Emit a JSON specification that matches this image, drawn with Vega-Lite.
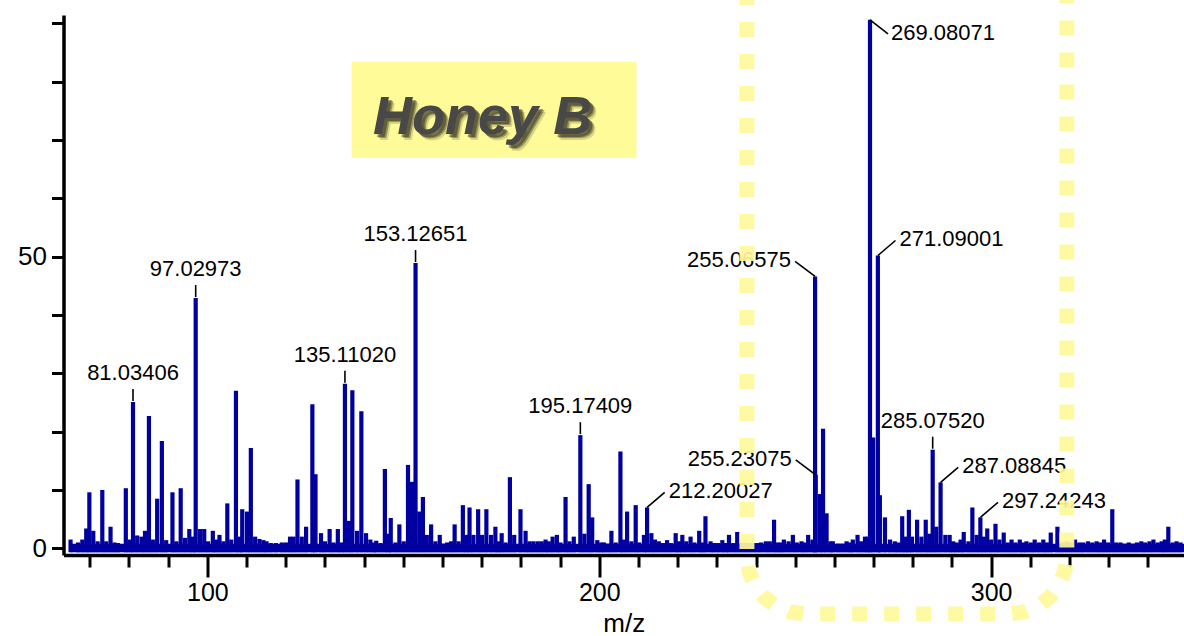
{
  "$schema": "https://vega.github.io/schema/vega-lite/v6.json",
  "autosize": {"type": "none"},
  "width": 1120.5,
  "height": 540,
  "padding": {"left": 63.5, "top": 15, "right": 0, "bottom": 81},
  "background": "white",
  "config": {"view": {"stroke": null}, "font": "Liberation Sans"},
  "datasets": {
    "peaks": [
      {"mz": 65.1, "intensity": 1.5}, {"mz": 67.0, "intensity": 1.0}, {"mz": 68.1, "intensity": 1.5},
      {"mz": 69.1, "intensity": 3.4}, {"mz": 69.9, "intensity": 9.6}, {"mz": 70.9, "intensity": 3.0},
      {"mz": 72.0, "intensity": 1.2}, {"mz": 73.2, "intensity": 10.0}, {"mz": 74.2, "intensity": 1.2},
      {"mz": 75.3, "intensity": 3.7}, {"mz": 76.3, "intensity": 1.0}, {"mz": 77.2, "intensity": 0.9},
      {"mz": 79.2, "intensity": 10.3}, {"mz": 80.2, "intensity": 1.5},
      {"mz": 81.03406, "intensity": 25.1, "label": "81.03406"},
      {"mz": 82.1, "intensity": 2.2}, {"mz": 83.2, "intensity": 2.0}, {"mz": 84.1, "intensity": 3.0},
      {"mz": 85.1, "intensity": 22.7}, {"mz": 86.1, "intensity": 1.5}, {"mz": 87.2, "intensity": 8.5},
      {"mz": 88.4, "intensity": 18.4}, {"mz": 89.5, "intensity": 1.4}, {"mz": 91.1, "intensity": 9.6},
      {"mz": 92.1, "intensity": 1.2}, {"mz": 93.2, "intensity": 10.3}, {"mz": 94.3, "intensity": 1.8},
      {"mz": 95.4, "intensity": 3.3}, {"mz": 96.3, "intensity": 2.0},
      {"mz": 97.02973, "intensity": 42.9, "label": "97.02973"},
      {"mz": 98.1, "intensity": 3.3}, {"mz": 99.2, "intensity": 3.3}, {"mz": 100.2, "intensity": 1.2},
      {"mz": 101.4, "intensity": 3.0}, {"mz": 102.2, "intensity": 1.5}, {"mz": 103.1, "intensity": 2.3},
      {"mz": 104.1, "intensity": 1.2}, {"mz": 105.1, "intensity": 7.7}, {"mz": 106.1, "intensity": 1.5},
      {"mz": 107.3, "intensity": 27.0}, {"mz": 108.2, "intensity": 2.0}, {"mz": 108.9, "intensity": 6.7},
      {"mz": 110.1, "intensity": 6.3}, {"mz": 111.1, "intensity": 17.2}, {"mz": 112.2, "intensity": 2.0},
      {"mz": 113.3, "intensity": 1.6}, {"mz": 114.3, "intensity": 1.4}, {"mz": 115.1, "intensity": 1.2},
      {"mz": 116.2, "intensity": 0.9}, {"mz": 117.5, "intensity": 0.9}, {"mz": 119.0, "intensity": 1.0},
      {"mz": 120.1, "intensity": 1.0}, {"mz": 121.1, "intensity": 2.0}, {"mz": 122.0, "intensity": 2.0},
      {"mz": 123.0, "intensity": 11.8}, {"mz": 124.1, "intensity": 2.0}, {"mz": 125.2, "intensity": 3.7},
      {"mz": 126.8, "intensity": 24.7}, {"mz": 127.6, "intensity": 12.7}, {"mz": 129.0, "intensity": 2.6},
      {"mz": 130.0, "intensity": 1.2}, {"mz": 131.2, "intensity": 3.3}, {"mz": 132.2, "intensity": 1.0},
      {"mz": 133.3, "intensity": 3.3}, {"mz": 134.2, "intensity": 1.0},
      {"mz": 135.1102, "intensity": 28.2, "label": "135.11020"},
      {"mz": 136.1, "intensity": 4.7}, {"mz": 137.0, "intensity": 27.1}, {"mz": 138.2, "intensity": 3.0},
      {"mz": 139.3, "intensity": 23.5}, {"mz": 140.5, "intensity": 2.6}, {"mz": 141.6, "intensity": 1.5},
      {"mz": 142.5, "intensity": 1.0}, {"mz": 143.1, "intensity": 1.3}, {"mz": 144.2, "intensity": 0.9},
      {"mz": 145.3, "intensity": 13.6}, {"mz": 146.2, "intensity": 2.5}, {"mz": 146.8, "intensity": 5.2},
      {"mz": 148.0, "intensity": 1.0}, {"mz": 149.0, "intensity": 4.1}, {"mz": 150.1, "intensity": 1.2},
      {"mz": 151.2, "intensity": 14.3}, {"mz": 152.2, "intensity": 11.4},
      {"mz": 153.12651, "intensity": 48.9, "label": "153.12651"},
      {"mz": 154.1, "intensity": 6.3}, {"mz": 155.0, "intensity": 8.8}, {"mz": 156.0, "intensity": 2.3},
      {"mz": 157.1, "intensity": 4.1}, {"mz": 158.2, "intensity": 1.2}, {"mz": 159.3, "intensity": 2.3},
      {"mz": 160.2, "intensity": 0.8}, {"mz": 161.2, "intensity": 1.0}, {"mz": 162.2, "intensity": 1.2},
      {"mz": 163.1, "intensity": 4.1}, {"mz": 164.1, "intensity": 1.2}, {"mz": 165.2, "intensity": 7.4},
      {"mz": 166.1, "intensity": 2.3}, {"mz": 166.9, "intensity": 7.0}, {"mz": 167.9, "intensity": 2.3},
      {"mz": 169.1, "intensity": 6.7}, {"mz": 170.1, "intensity": 2.3}, {"mz": 171.2, "intensity": 6.7},
      {"mz": 172.4, "intensity": 2.3}, {"mz": 173.5, "intensity": 3.7}, {"mz": 174.3, "intensity": 1.2},
      {"mz": 175.1, "intensity": 2.6}, {"mz": 176.1, "intensity": 1.0}, {"mz": 177.2, "intensity": 12.2},
      {"mz": 178.3, "intensity": 2.3}, {"mz": 179.9, "intensity": 6.7}, {"mz": 181.2, "intensity": 3.0},
      {"mz": 182.2, "intensity": 1.2}, {"mz": 183.2, "intensity": 1.2}, {"mz": 184.3, "intensity": 1.2},
      {"mz": 185.3, "intensity": 1.2}, {"mz": 186.3, "intensity": 1.5}, {"mz": 187.1, "intensity": 1.2},
      {"mz": 188.1, "intensity": 2.0}, {"mz": 189.2, "intensity": 2.3}, {"mz": 190.1, "intensity": 1.0},
      {"mz": 191.4, "intensity": 8.8}, {"mz": 192.4, "intensity": 1.2}, {"mz": 193.5, "intensity": 2.0},
      {"mz": 195.17409, "intensity": 19.4, "label": "195.17409"},
      {"mz": 196.2, "intensity": 2.5}, {"mz": 197.3, "intensity": 11.0}, {"mz": 198.2, "intensity": 5.3},
      {"mz": 199.5, "intensity": 1.4}, {"mz": 200.5, "intensity": 1.0}, {"mz": 201.2, "intensity": 1.0},
      {"mz": 202.2, "intensity": 0.8}, {"mz": 203.1, "intensity": 3.0}, {"mz": 204.2, "intensity": 1.0},
      {"mz": 205.4, "intensity": 16.6}, {"mz": 206.2, "intensity": 1.5}, {"mz": 207.1, "intensity": 6.3},
      {"mz": 208.2, "intensity": 1.2}, {"mz": 209.3, "intensity": 7.4}, {"mz": 210.2, "intensity": 1.0},
      {"mz": 211.4, "intensity": 2.3},
      {"mz": 212.20027, "intensity": 7.0, "label": "212.20027"},
      {"mz": 213.3, "intensity": 2.6}, {"mz": 214.2, "intensity": 1.5}, {"mz": 215.2, "intensity": 1.2},
      {"mz": 216.3, "intensity": 0.9}, {"mz": 217.3, "intensity": 1.4}, {"mz": 218.3, "intensity": 0.9},
      {"mz": 219.5, "intensity": 2.6}, {"mz": 220.3, "intensity": 1.2}, {"mz": 221.2, "intensity": 2.3},
      {"mz": 222.2, "intensity": 1.2}, {"mz": 223.3, "intensity": 2.0}, {"mz": 224.3, "intensity": 1.0},
      {"mz": 225.5, "intensity": 3.0}, {"mz": 226.3, "intensity": 1.0}, {"mz": 227.1, "intensity": 5.5},
      {"mz": 228.4, "intensity": 1.2}, {"mz": 229.3, "intensity": 0.9}, {"mz": 230.3, "intensity": 0.9},
      {"mz": 231.4, "intensity": 1.4}, {"mz": 232.3, "intensity": 0.9}, {"mz": 233.1, "intensity": 2.3},
      {"mz": 234.2, "intensity": 0.9}, {"mz": 235.2, "intensity": 2.8}, {"mz": 236.3, "intensity": 0.9},
      {"mz": 237.3, "intensity": 1.0}, {"mz": 238.3, "intensity": 0.9}, {"mz": 239.3, "intensity": 0.9},
      {"mz": 240.3, "intensity": 0.9}, {"mz": 241.3, "intensity": 1.0}, {"mz": 242.5, "intensity": 1.2},
      {"mz": 243.5, "intensity": 1.2}, {"mz": 244.6, "intensity": 4.9}, {"mz": 245.5, "intensity": 1.0},
      {"mz": 246.3, "intensity": 1.0}, {"mz": 247.1, "intensity": 1.5}, {"mz": 248.3, "intensity": 1.2},
      {"mz": 249.4, "intensity": 2.3}, {"mz": 250.4, "intensity": 1.0}, {"mz": 251.6, "intensity": 1.2},
      {"mz": 252.4, "intensity": 1.0}, {"mz": 253.3, "intensity": 2.3}, {"mz": 254.4, "intensity": 1.5},
      {"mz": 255.06575, "intensity": 46.6, "label": "255.06575"},
      {"mz": 255.23075, "intensity": 12.6, "label": "255.23075"},
      {"mz": 256.3, "intensity": 9.3}, {"mz": 257.1, "intensity": 20.5}, {"mz": 258.0, "intensity": 6.0},
      {"mz": 259.0, "intensity": 1.2}, {"mz": 259.6, "intensity": 1.2}, {"mz": 260.9, "intensity": 0.8},
      {"mz": 262.0, "intensity": 0.8}, {"mz": 263.1, "intensity": 1.2}, {"mz": 264.0, "intensity": 1.0},
      {"mz": 264.7, "intensity": 1.5}, {"mz": 265.9, "intensity": 2.3}, {"mz": 266.8, "intensity": 1.2},
      {"mz": 267.8, "intensity": 2.0}, {"mz": 268.5, "intensity": 2.0},
      {"mz": 269.08071, "intensity": 90.6, "label": "269.08071"},
      {"mz": 269.9, "intensity": 19.0},
      {"mz": 271.09001, "intensity": 50.2, "label": "271.09001"},
      {"mz": 271.6, "intensity": 9.1}, {"mz": 272.9, "intensity": 5.3}, {"mz": 274.2, "intensity": 1.5},
      {"mz": 275.4, "intensity": 1.2}, {"mz": 276.3, "intensity": 1.0}, {"mz": 277.3, "intensity": 5.5},
      {"mz": 278.2, "intensity": 2.0}, {"mz": 279.0, "intensity": 6.6}, {"mz": 279.8, "intensity": 2.0},
      {"mz": 281.1, "intensity": 4.9}, {"mz": 282.2, "intensity": 2.0}, {"mz": 283.3, "intensity": 4.9},
      {"mz": 284.2, "intensity": 2.5},
      {"mz": 285.0752, "intensity": 16.9, "label": "285.07520"},
      {"mz": 286.0, "intensity": 3.7},
      {"mz": 287.08845, "intensity": 11.3, "label": "287.08845"},
      {"mz": 288.3, "intensity": 2.3}, {"mz": 289.4, "intensity": 2.3}, {"mz": 290.3, "intensity": 1.2},
      {"mz": 291.2, "intensity": 1.0}, {"mz": 292.2, "intensity": 1.5}, {"mz": 293.0, "intensity": 2.8},
      {"mz": 294.2, "intensity": 1.2}, {"mz": 295.2, "intensity": 7.0}, {"mz": 296.3, "intensity": 2.3},
      {"mz": 297.24243, "intensity": 5.3, "label": "297.24243"},
      {"mz": 298.1, "intensity": 2.0}, {"mz": 299.0, "intensity": 3.4}, {"mz": 300.0, "intensity": 1.5},
      {"mz": 301.1, "intensity": 4.2}, {"mz": 302.1, "intensity": 1.5}, {"mz": 303.2, "intensity": 2.7},
      {"mz": 304.2, "intensity": 1.0}, {"mz": 305.2, "intensity": 1.5}, {"mz": 306.2, "intensity": 1.0},
      {"mz": 307.3, "intensity": 1.5}, {"mz": 308.2, "intensity": 1.0}, {"mz": 309.0, "intensity": 1.2},
      {"mz": 310.1, "intensity": 1.0}, {"mz": 311.1, "intensity": 1.5}, {"mz": 312.2, "intensity": 1.0},
      {"mz": 313.3, "intensity": 1.5}, {"mz": 314.2, "intensity": 1.0}, {"mz": 315.2, "intensity": 2.7},
      {"mz": 316.9, "intensity": 3.7}, {"mz": 318.0, "intensity": 1.0}, {"mz": 319.2, "intensity": 1.2},
      {"mz": 320.3, "intensity": 1.0}, {"mz": 321.4, "intensity": 1.5}, {"mz": 322.5, "intensity": 1.0},
      {"mz": 323.5, "intensity": 1.0}, {"mz": 324.7, "intensity": 1.2}, {"mz": 325.8, "intensity": 1.0},
      {"mz": 326.9, "intensity": 1.2}, {"mz": 327.8, "intensity": 1.0}, {"mz": 328.8, "intensity": 1.5},
      {"mz": 329.8, "intensity": 1.0}, {"mz": 330.9, "intensity": 6.7}, {"mz": 331.9, "intensity": 1.0},
      {"mz": 333.0, "intensity": 1.0}, {"mz": 334.0, "intensity": 0.8}, {"mz": 335.1, "intensity": 1.0},
      {"mz": 336.2, "intensity": 0.8}, {"mz": 337.2, "intensity": 1.0}, {"mz": 338.3, "intensity": 1.2},
      {"mz": 339.3, "intensity": 1.0}, {"mz": 340.4, "intensity": 1.2}, {"mz": 341.4, "intensity": 1.5},
      {"mz": 342.5, "intensity": 1.0}, {"mz": 343.5, "intensity": 1.2}, {"mz": 344.3, "intensity": 1.5},
      {"mz": 345.2, "intensity": 3.7}, {"mz": 346.3, "intensity": 1.0}, {"mz": 347.3, "intensity": 1.2},
      {"mz": 348.3, "intensity": 1.0}
    ],
    "floor": [{"mz": 65.2, "mz_end": 349.2, "lo": -0.68, "hi": 0.8}],
    "note": [{"text": "Honey B", "mz": 136.8, "mz_end": 209.5, "lo": 66.9, "hi": 83.4, "tx": 142.3, "ty": 71.1}],
    "frame": [
      {"i": 0, "mz": 237.68, "intensity": 95.71},
      {"i": 1, "mz": 237.68, "intensity": -1.32},
      {"i": 2, "mz": 238.19, "intensity": -3.89},
      {"i": 3, "mz": 239.67, "intensity": -6.29},
      {"i": 4, "mz": 242.02, "intensity": -8.35},
      {"i": 5, "mz": 245.08, "intensity": -9.93},
      {"i": 6, "mz": 248.65, "intensity": -10.92},
      {"i": 7, "mz": 252.47, "intensity": -11.26},
      {"i": 8, "mz": 304.52, "intensity": -11.26},
      {"i": 9, "mz": 308.34, "intensity": -10.92},
      {"i": 10, "mz": 311.91, "intensity": -9.93},
      {"i": 11, "mz": 314.97, "intensity": -8.35},
      {"i": 12, "mz": 317.32, "intensity": -6.29},
      {"i": 13, "mz": 318.8, "intensity": -3.89},
      {"i": 14, "mz": 319.31, "intensity": -1.32},
      {"i": 15, "mz": 319.31, "intensity": 95.71}
    ]
  },
  "layer": [
    {
      "data": {"name": "peaks"},
      "mark": {"type": "rule", "strokeWidth": 4.2, "color": "#0000A0"},
      "encoding": {
        "x": {
          "field": "mz", "type": "quantitative",
          "scale": {"domain": [63.3, 349.2], "nice": false, "zero": false},
          "axis": {
            "values": [70, 80, 90, 100, 110, 120, 130, 140, 150, 160, 170, 180, 190, 200, 210, 220, 230, 240, 250, 260, 270, 280, 290, 300, 310, 320, 330, 340],
            "labelExpr": "datum.value % 100 === 0 ? datum.label : ''",
            "tickSize": {"condition": {"test": "datum.value % 100 === 0", "value": 22}, "value": 12},
            "tickWidth": 3, "tickColor": "black",
            "domainWidth": 3.5, "domainColor": "black",
            "labelFontSize": 25, "labelColor": "black", "labelFont": "Liberation Sans", "labelPadding": 3,
            "grid": false,
            "title": "m/z", "titleFontSize": 26, "titleFontWeight": "normal", "titleColor": "black", "titleFont": "Liberation Sans", "titlePadding": 5
          }
        },
        "y": {
          "field": "intensity", "type": "quantitative",
          "scale": {"domain": [-1.15, 91.43], "nice": false, "zero": false},
          "axis": {
            "values": [0, 10, 20, 30, 40, 50, 60, 70, 80, 90],
            "labelExpr": "datum.value % 50 === 0 ? datum.label : ''",
            "tickSize": 12, "tickWidth": 3, "tickColor": "black",
            "domainWidth": 3.5, "domainColor": "black",
            "labelFontSize": 26, "labelColor": "black", "labelFont": "Liberation Sans", "labelPadding": 5,
            "grid": false, "title": null
          }
        },
        "y2": {"datum": -0.68}
      }
    },
    {
      "data": {"name": "floor"},
      "mark": {"type": "rect", "color": "#0000A0"},
      "encoding": {
        "x": {"field": "mz", "type": "quantitative"},
        "x2": {"field": "mz_end"},
        "y": {"field": "lo", "type": "quantitative"},
        "y2": {"field": "hi"}
      }
    },
    {
      "data": {"name": "peaks"},
      "transform": [{"filter": {"field": "label", "oneOf": ["81.03406", "97.02973", "135.11020", "153.12651", "195.17409", "285.07520"]}}],
      "encoding": {
        "x": {"field": "mz", "type": "quantitative"},
        "y": {"field": "intensity", "type": "quantitative"}
      },
      "layer": [
        {"mark": {"type": "rule", "yOffset": -1, "y2Offset": -13, "strokeWidth": 1.6, "color": "black"}, "encoding": {"y2": {"field": "intensity"}}},
        {"mark": {"type": "text", "dy": -22, "baseline": "alphabetic", "align": "center", "fontSize": 22, "font": "Liberation Sans", "color": "black"}, "encoding": {"text": {"field": "label"}}}
      ]
    },
    {
      "data": {"name": "peaks"},
      "transform": [{"filter": {"field": "label", "oneOf": ["212.20027", "271.09001", "287.08845", "297.24243"]}}],
      "encoding": {
        "x": {"field": "mz", "type": "quantitative"},
        "y": {"field": "intensity", "type": "quantitative"}
      },
      "layer": [
        {"mark": {"type": "rule", "x2Offset": 17.6, "y2Offset": -15, "strokeWidth": 1.6, "color": "black"}, "encoding": {"x2": {"field": "mz"}, "y2": {"field": "intensity"}}},
        {"mark": {"type": "text", "dx": 21.6, "dy": -16, "baseline": "middle", "align": "left", "fontSize": 22, "font": "Liberation Sans", "color": "black"}, "encoding": {"text": {"field": "label"}}}
      ]
    },
    {
      "data": {"name": "peaks"},
      "transform": [{"filter": {"field": "label", "oneOf": ["269.08071"]}}],
      "encoding": {
        "x": {"field": "mz", "type": "quantitative"},
        "y": {"field": "intensity", "type": "quantitative"}
      },
      "layer": [
        {"mark": {"type": "rule", "x2Offset": 18, "y2Offset": 14, "strokeWidth": 1.6, "color": "black"}, "encoding": {"x2": {"field": "mz"}, "y2": {"field": "intensity"}}},
        {"mark": {"type": "text", "dx": 21, "dy": 13.5, "baseline": "middle", "align": "left", "fontSize": 22, "font": "Liberation Sans", "color": "black"}, "encoding": {"text": {"field": "label"}}}
      ]
    },
    {
      "data": {"name": "peaks"},
      "transform": [{"filter": {"field": "label", "oneOf": ["255.06575", "255.23075"]}}],
      "encoding": {
        "x": {"field": "mz", "type": "quantitative"},
        "y": {"field": "intensity", "type": "quantitative"}
      },
      "layer": [
        {"mark": {"type": "rule", "x2Offset": -20, "y2Offset": -15, "strokeWidth": 1.6, "color": "black"}, "encoding": {"x2": {"field": "mz"}, "y2": {"field": "intensity"}}},
        {"mark": {"type": "text", "dx": -24, "dy": -16, "baseline": "middle", "align": "right", "fontSize": 22, "font": "Liberation Sans", "color": "black"}, "encoding": {"text": {"field": "label"}}}
      ]
    },
    {
      "data": {"name": "note"},
      "encoding": {
        "x": {"field": "tx", "type": "quantitative"},
        "y": {"field": "ty", "type": "quantitative"},
        "text": {"field": "text"}
      },
      "layer": [
        {"mark": {"type": "rect", "color": "#FFFB98"}, "encoding": {"x": {"field": "mz", "type": "quantitative"}, "x2": {"field": "mz_end"}, "y": {"field": "lo", "type": "quantitative"}, "y2": {"field": "hi"}, "text": null}},
        {"mark": {"type": "text", "align": "left", "baseline": "alphabetic", "font": "Liberation Sans", "fontSize": 54, "fontWeight": "bold", "fontStyle": "italic", "color": "#000000", "opacity": 0.15, "dx": 6, "dy": 6}},
        {"mark": {"type": "text", "align": "left", "baseline": "alphabetic", "font": "Liberation Sans", "fontSize": 54, "fontWeight": "bold", "fontStyle": "italic", "color": "#000000", "opacity": 0.3, "dx": 4.5, "dy": 4.5}},
        {"mark": {"type": "text", "align": "left", "baseline": "alphabetic", "font": "Liberation Sans", "fontSize": 54, "fontWeight": "bold", "fontStyle": "italic", "color": "#000000", "opacity": 0.35, "dx": 3, "dy": 3}},
        {"mark": {"type": "text", "align": "left", "baseline": "alphabetic", "font": "Liberation Sans", "fontSize": 54, "fontWeight": "bold", "fontStyle": "italic", "color": "#484848"}}
      ]
    },
    {
      "data": {"name": "frame"},
      "mark": {"type": "line", "color": "#FFF89A", "strokeWidth": 15, "strokeDash": [15, 17], "strokeCap": "butt", "opacity": 0.92, "clip": false},
      "encoding": {
        "x": {"field": "mz", "type": "quantitative"},
        "y": {"field": "intensity", "type": "quantitative"},
        "order": {"field": "i", "type": "quantitative"}
      }
    }
  ]
}
